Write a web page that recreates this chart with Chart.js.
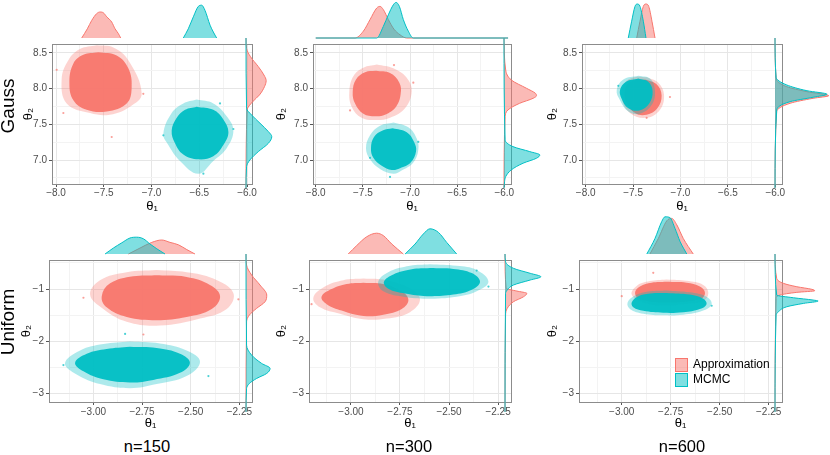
<!DOCTYPE html>
<html>
<head>
<meta charset="utf-8">
<title>Approximation vs MCMC</title>
<script src="https://cdn.jsdelivr.net/npm/chart.js@4.4.1/dist/chart.umd.min.js"></script>
<style>
  html, body { margin: 0; padding: 0; background: #fff; }
  #fig { position: relative; width: 830px; height: 455px; overflow: hidden; font-family: "Liberation Sans", Arial, Helvetica, sans-serif; color: #000; }
  #fig canvas { position: absolute; }
  .rowLabel { position: absolute; font-size: 19px; line-height: 22px; white-space: nowrap; transform: translate(-50%, -50%) rotate(-90deg); }
  .nLabel { position: absolute; font-size: 16.5px; line-height: 20px; white-space: nowrap; transform: translate(-50%, -50%); }
  .legend { position: absolute; left: 675px; top: 357px; font-size: 12px; z-index: 5; }
  .legend div { height: 15px; line-height: 15px; display: flex; align-items: center; white-space: nowrap; }
  .legend .key { width: 11px; height: 12px; border: 1px solid; margin-right: 5px; }
</style>
</head>
<body>
<div id="fig"></div>
<script>
// ---------- values ----------
const rowNames = ['Gauss', 'Uniform'];
const sampleSizes = [150, 300, 600];
const seriesNames = ['Approximation', 'MCMC'];

// axis ticks
const gaussXMajor = [-8, -7.5, -7, -6.5, -6];
const gaussXMinor = [-7.75, -7.25, -6.75, -6.25];
const gaussYMajor = [7, 7.5, 8, 8.5];
const gaussYMinor = [6.75, 7.25, 7.75, 8.25];
const unifXMajor = [-3, -2.75, -2.5, -2.25];
const unifXMinor = [-3.125, -2.875, -2.625, -2.375];
const unifYMajor = [-3, -2, -1];
const unifYMinor = [-2.5, -1.5, -0.5];

// axis limits
const gaussXLimits = [[-8.042, -5.948], [-8.029, -5.929], [-8.039, -5.929]];
const gaussYLimits = [6.665, 8.625];
const unifXLimits = [[-3.228, -2.185], [-3.214, -2.184], [-3.218, -2.182]];
const unifYLimits = [-3.16, -0.444];
const gaussSideLimits = [6.61, 8.625];
const unifSideLimits = [-3.34, -0.444];

// point clouds: outer (sparse) and inner (dense) outlines, [theta1, theta2]
const gauss150ApproxHalo = [[-7.574,8.607],[-7.400,8.576],[-7.243,8.397],[-7.103,7.927],[-7.225,7.748],[-7.435,7.636],[-7.644,7.659],[-7.888,7.793],[-7.941,8.129],[-7.871,8.397],[-7.749,8.554]];
const gauss150ApproxCore = [[-7.557,8.509],[-7.365,8.464],[-7.243,8.285],[-7.208,8.017],[-7.260,7.793],[-7.469,7.681],[-7.679,7.704],[-7.818,7.838],[-7.860,8.084],[-7.818,8.352],[-7.714,8.473]];
const gauss150McmcHalo = [[-6.527,7.847],[-6.353,7.793],[-6.213,7.614],[-6.143,7.413],[-6.213,7.167],[-6.353,6.988],[-6.510,6.809],[-6.702,6.988],[-6.824,7.211],[-6.876,7.368],[-6.789,7.659],[-6.667,7.793]];
const gauss150McmcCore = [[-6.527,7.748],[-6.353,7.704],[-6.248,7.569],[-6.195,7.390],[-6.248,7.211],[-6.353,7.055],[-6.510,7.010],[-6.667,7.077],[-6.754,7.234],[-6.789,7.413],[-6.736,7.592],[-6.649,7.704]];
const gauss150ApproxStray = [[-7.993,8.263],[-7.417,7.323],[-7.923,7.659],[-7.086,7.927]];
const gauss150McmcStray = [[-6.457,6.809],[-6.876,7.346],[-6.143,7.435],[-6.283,7.793]];

const gauss300ApproxHalo = [[-7.353,8.339],[-7.177,8.285],[-7.035,8.151],[-6.982,7.963],[-7.053,7.726],[-7.212,7.592],[-7.353,7.560],[-7.513,7.592],[-7.619,7.748],[-7.643,7.963],[-7.601,8.173],[-7.495,8.294]];
const gauss300ApproxCore = [[-7.361,8.249],[-7.212,8.218],[-7.113,8.084],[-7.099,7.928],[-7.148,7.748],[-7.265,7.636],[-7.371,7.614],[-7.495,7.650],[-7.583,7.793],[-7.608,7.950],[-7.573,8.129],[-7.477,8.231]];
const gauss300McmcHalo = [[-7.177,7.525],[-7.018,7.458],[-6.929,7.301],[-6.912,7.144],[-6.965,6.965],[-7.089,6.853],[-7.177,6.809],[-7.318,6.876],[-7.424,7.010],[-7.467,7.167],[-7.424,7.346],[-7.318,7.480]];
const gauss300McmcCore = [[-7.184,7.444],[-7.035,7.390],[-6.958,7.256],[-6.936,7.122],[-6.993,6.965],[-7.106,6.885],[-7.194,6.862],[-7.300,6.921],[-7.389,7.032],[-7.414,7.167],[-7.382,7.323],[-7.290,7.413]];
const gauss300ApproxStray = [[-6.965,8.084],[-7.170,8.330],[-7.636,7.695]];
const gauss300McmcStray = [[-6.912,7.256],[-7.424,7.032],[-7.212,6.764]];

const gauss600ApproxHalo = [[-7.357,8.160],[-7.234,8.084],[-7.174,7.918],[-7.216,7.704],[-7.357,7.592],[-7.533,7.659],[-7.621,7.883],[-7.586,8.084],[-7.480,8.160]];
const gauss600ApproxCore = [[-7.374,8.129],[-7.252,8.062],[-7.199,7.905],[-7.244,7.726],[-7.357,7.636],[-7.480,7.659],[-7.575,7.815],[-7.586,7.994],[-7.515,8.106]];
const gauss600McmcHalo = [[-7.445,8.182],[-7.322,8.142],[-7.269,7.972],[-7.304,7.771],[-7.427,7.650],[-7.550,7.681],[-7.638,7.838],[-7.673,7.981],[-7.603,8.129]];
const gauss600McmcCore = [[-7.445,8.142],[-7.340,8.097],[-7.294,7.963],[-7.329,7.793],[-7.434,7.695],[-7.550,7.726],[-7.621,7.860],[-7.638,7.981],[-7.575,8.097]];
const gauss600ApproxStray = [[-7.111,7.883],[-7.357,7.592]];
const gauss600McmcStray = [[-7.656,8.039]];

const unif150ApproxHalo = [[-2.675,-0.634],[-2.521,-0.676],[-2.384,-0.799],[-2.281,-1.074],[-2.315,-1.380],[-2.452,-1.563],[-2.658,-1.698],[-2.829,-1.624],[-2.949,-1.380],[-3.017,-1.105],[-2.966,-0.829],[-2.829,-0.676]];
const unif150ApproxCore = [[-2.675,-0.738],[-2.521,-0.768],[-2.401,-0.921],[-2.349,-1.135],[-2.392,-1.380],[-2.521,-1.533],[-2.675,-1.594],[-2.829,-1.533],[-2.932,-1.349],[-2.957,-1.135],[-2.914,-0.891],[-2.795,-0.756]];
const unif150McmcHalo = [[-2.812,-2.003],[-2.658,-2.040],[-2.521,-2.174],[-2.452,-2.388],[-2.521,-2.664],[-2.675,-2.817],[-2.812,-2.896],[-2.966,-2.817],[-3.086,-2.634],[-3.146,-2.420],[-3.068,-2.174],[-2.949,-2.052]];
const unif150McmcCore = [[-2.812,-2.101],[-2.675,-2.125],[-2.555,-2.235],[-2.504,-2.407],[-2.555,-2.602],[-2.692,-2.737],[-2.812,-2.786],[-2.949,-2.725],[-3.051,-2.572],[-3.094,-2.407],[-3.034,-2.235],[-2.932,-2.144]];
const unif150ApproxStray = [[-3.051,-1.166],[-2.255,-1.196],[-2.743,-1.869]];
const unif150McmcStray = [[-2.409,-2.664],[-3.154,-2.454],[-2.837,-1.857]];

const unif300ApproxHalo = [[-2.937,-0.799],[-2.818,-0.829],[-2.699,-0.982],[-2.648,-1.196],[-2.699,-1.441],[-2.818,-1.563],[-2.937,-1.576],[-3.056,-1.472],[-3.158,-1.349],[-3.192,-1.166],[-3.133,-0.952],[-3.039,-0.829]];
const unif300ApproxCore = [[-2.937,-0.878],[-2.835,-0.903],[-2.741,-1.043],[-2.707,-1.209],[-2.741,-1.380],[-2.835,-1.490],[-2.937,-1.514],[-3.048,-1.410],[-3.124,-1.288],[-3.150,-1.147],[-3.099,-1.001],[-3.022,-0.903]];
const unif300McmcHalo = [[-2.597,-0.524],[-2.461,-0.554],[-2.359,-0.634],[-2.299,-0.860],[-2.359,-1.043],[-2.461,-1.147],[-2.614,-1.184],[-2.733,-1.147],[-2.835,-1.043],[-2.861,-0.860],[-2.810,-0.676],[-2.699,-0.554]];
const unif300McmcCore = [[-2.597,-0.597],[-2.478,-0.615],[-2.384,-0.695],[-2.342,-0.860],[-2.384,-1.013],[-2.478,-1.105],[-2.614,-1.135],[-2.724,-1.086],[-2.810,-0.994],[-2.832,-0.860],[-2.784,-0.719],[-2.690,-0.621]];
const unif300ApproxStray = [[-3.201,-1.288]];
const unif300McmcStray = [[-2.299,-0.952],[-2.359,-0.646]];

const unif600ApproxHalo = [[-2.771,-0.817],[-2.669,-0.842],[-2.584,-0.921],[-2.558,-1.074],[-2.584,-1.227],[-2.685,-1.288],[-2.788,-1.319],[-2.890,-1.258],[-2.949,-1.105],[-2.924,-0.939],[-2.856,-0.848]];
const unif600ApproxCore = [[-2.771,-0.860],[-2.669,-0.878],[-2.601,-0.952],[-2.575,-1.074],[-2.601,-1.196],[-2.771,-1.258],[-2.907,-1.196],[-2.932,-1.074],[-2.907,-0.952],[-2.847,-0.878]];
const unif600McmcHalo = [[-2.771,-1.025],[-2.652,-1.062],[-2.567,-1.147],[-2.541,-1.288],[-2.584,-1.410],[-2.685,-1.490],[-2.788,-1.502],[-2.890,-1.472],[-2.958,-1.380],[-2.970,-1.258],[-2.932,-1.123],[-2.856,-1.043]];
const unif600McmcCore = [[-2.771,-1.074],[-2.652,-1.105],[-2.584,-1.184],[-2.567,-1.288],[-2.601,-1.380],[-2.685,-1.441],[-2.788,-1.453],[-2.890,-1.417],[-2.941,-1.349],[-2.949,-1.258],[-2.920,-1.147],[-2.856,-1.086]];
const unif600ApproxStray = [[-3.0,-1.135],[-2.839,-0.689]];
const unif600McmcStray = [[-2.541,-1.319]];

// marginal densities (relative height), top: [theta1, d], side: [theta2, d]
const gauss150ApproxTop = [[-7.731,0],[-7.672,0.23],[-7.626,0.44],[-7.574,0.61],[-7.539,0.65],[-7.504,0.63],[-7.469,0.53],[-7.417,0.40],[-7.382,0.23],[-7.347,0.11],[-7.323,0]];
const gauss150McmcTop = [[-6.667,0],[-6.615,0.23],[-6.562,0.53],[-6.510,0.79],[-6.475,0.82],[-6.440,0.69],[-6.387,0.32],[-6.353,0.15],[-6.318,0]];
const gauss150ApproxSide = [[6.61,0],[7.658,0.02],[7.770,0.12],[7.860,0.24],[7.971,0.33],[8.052,0.36],[8.128,0.32],[8.240,0.22],[8.374,0.08],[8.487,0.01],[8.625,0]];
const gauss150McmcSide = [[6.61,0],[6.897,0.01],[6.987,0.07],[7.099,0.22],[7.211,0.40],[7.300,0.46],[7.367,0.40],[7.480,0.25],[7.591,0.10],[7.681,0.01],[8.625,0]];

const gauss300ApproxTop = [[-8.0,0],[-7.583,0],[-7.495,0.17],[-7.424,0.46],[-7.353,0.75],[-7.318,0.79],[-7.283,0.71],[-7.230,0.46],[-7.170,0.22],[-7.106,0.08],[-7.035,0],[-5.96,0]];
const gauss300McmcTop = [[-8.0,0],[-7.353,0],[-7.283,0.29],[-7.230,0.58],[-7.177,0.83],[-7.148,0.89],[-7.113,0.79],[-7.071,0.46],[-7.018,0.17],[-6.965,0],[-5.96,0]];
const gauss300ApproxSide = [[6.61,0],[7.568,0.02],[7.658,0.07],[7.748,0.28],[7.815,0.52],[7.850,0.58],[7.883,0.56],[7.950,0.40],[8.061,0.13],[8.195,0.03],[8.625,0]];
const gauss300McmcSide = [[6.61,0],[6.696,0.01],[6.763,0.03],[6.853,0.13],[6.943,0.34],[7.010,0.58],[7.054,0.64],[7.099,0.46],[7.166,0.16],[7.256,0.02],[8.625,0]];

const gauss600ApproxTop = [[-7.462,0],[-7.427,0.42],[-7.392,0.79],[-7.364,0.85],[-7.335,0.79],[-7.301,0.42],[-7.269,0]];
const gauss600McmcTop = [[-7.551,0],[-7.515,0.42],[-7.480,0.79],[-7.456,0.85],[-7.427,0.79],[-7.392,0.42],[-7.364,0]];
const gauss600ApproxSide = [[6.61,0],[7.636,0.03],[7.748,0.27],[7.815,0.68],[7.850,0.96],[7.904,0.57],[7.971,0.21],[8.084,0.02],[8.625,0]];
const gauss600McmcSide = [[6.61,0],[7.658,0.03],[7.770,0.27],[7.829,0.68],[7.869,0.93],[7.917,0.57],[7.994,0.21],[8.097,0.02],[8.625,0]];

const unif150ApproxTop = [[-2.820,0],[-2.760,0.15],[-2.700,0.29],[-2.649,0.35],[-2.606,0.29],[-2.563,0.23],[-2.520,0.11],[-2.478,0]];
const unif150McmcTop = [[-2.940,0],[-2.897,0.15],[-2.854,0.28],[-2.812,0.40],[-2.777,0.42],[-2.743,0.38],[-2.709,0.25],[-2.674,0.13],[-2.632,0]];
const unif150ApproxSide = [[-3.34,0],[-1.686,0.01],[-1.563,0.06],[-1.440,0.19],[-1.319,0.34],[-1.196,0.37],[-1.013,0.25],[-0.829,0.10],[-0.646,0.01],[-0.444,0]];
const unif150McmcSide = [[-3.34,0],[-2.908,0.01],[-2.817,0.06],[-2.725,0.19],[-2.633,0.37],[-2.541,0.43],[-2.450,0.28],[-2.297,0.10],[-2.114,0.01],[-0.444,0]];

const unif300ApproxTop = [[-3.014,0],[-2.971,0.21],[-2.920,0.43],[-2.869,0.52],[-2.835,0.46],[-2.792,0.25],[-2.733,0]];
const unif300McmcTop = [[-2.724,0],[-2.673,0.25],[-2.631,0.50],[-2.597,0.63],[-2.554,0.54],[-2.512,0.29],[-2.461,0]];
const unif300ApproxSide = [[-3.34,0],[-1.563,0.01],[-1.440,0.04],[-1.319,0.15],[-1.228,0.33],[-1.165,0.39],[-1.123,0.21],[-1.073,0.02],[-0.444,0]];
const unif300McmcSide = [[-3.34,0],[-1.165,0.01],[-1.105,0.04],[-1.013,0.15],[-0.921,0.45],[-0.861,0.64],[-0.798,0.45],[-0.706,0.15],[-0.585,0.01],[-0.444,0]];

const unif600ApproxTop = [[-2.856,0],[-2.813,0.39],[-2.770,0.83],[-2.745,0.89],[-2.719,0.73],[-2.686,0.39],[-2.635,0]];
const unif600McmcTop = [[-2.872,0],[-2.830,0.39],[-2.796,0.81],[-2.779,0.93],[-2.754,0.91],[-2.728,0.64],[-2.702,0.31],[-2.668,0]];
const unif600ApproxSide = [[-3.34,0],[-1.257,0.02],[-1.196,0.09],[-1.147,0.39],[-1.117,0.71],[-1.092,0.66],[-1.044,0.39],[-0.982,0.15],[-0.890,0.03],[-0.444,0]];
const unif600McmcSide = [[-3.34,0],[-1.563,0.02],[-1.503,0.06],[-1.411,0.21],[-1.349,0.51],[-1.306,0.77],[-1.288,0.68],[-1.246,0.33],[-1.196,0.03],[-0.444,0]];

// ---------- layout (pixels) ----------
const panelBoxes = [
  {l: 52,  t: 38,  w: 200, h: 146, base: 246, sideH: 150, yTitlePad: 9,  xTitlePad: 1.5, xTickPad: 0},
  {l: 313, t: 38,  w: 198, h: 146, base: 504, sideH: 150, yTitlePad: 1,  xTitlePad: 1.5, xTickPad: 0},
  {l: 582, t: 38,  w: 200, h: 146, base: 775, sideH: 150, yTitlePad: 3,  xTitlePad: 1.5, xTickPad: 0},
  {l: 49,  t: 254, w: 203, h: 148, base: 246, sideH: 158, yTitlePad: 10, xTitlePad: 2.5, xTickPad: 1},
  {l: 309, t: 254, w: 202, h: 148, base: 505, sideH: 158, yTitlePad: 5,  xTitlePad: 2.5, xTickPad: 1},
  {l: 579, t: 254, w: 203, h: 148, base: 775, sideH: 158, yTitlePad: 6,  xTitlePad: 2.5, xTickPad: 1}
];
const rowLabelPos = [[7.5, 106], [7.5, 322]];
const nLabelPos = [[147, 446], [409, 446], [682, 446]];

const red = '#F8766D', cyan = '#00BFC4';
const redA = (a) => `rgba(248,118,109,${a})`;
const cyanA = (a) => `rgba(0,191,196,${a})`;

Chart.defaults.font.family = '"Liberation Sans", Arial, Helvetica, sans-serif';
Chart.defaults.animation = false;
Chart.defaults.events = [];
Chart.defaults.plugins.legend.display = false;
Chart.defaults.plugins.tooltip.enabled = false;

const fig = document.getElementById('fig');

const panels = [
  {box: panelBoxes[0], xLim: gaussXLimits[0], yLim: gaussYLimits, sideLim: gaussSideLimits, row: 0,
   aHalo: gauss150ApproxHalo, aCore: gauss150ApproxCore, mHalo: gauss150McmcHalo, mCore: gauss150McmcCore,
   aStray: gauss150ApproxStray, mStray: gauss150McmcStray, aTop: gauss150ApproxTop, mTop: gauss150McmcTop,
   aSide: gauss150ApproxSide, mSide: gauss150McmcSide},
  {box: panelBoxes[1], xLim: gaussXLimits[1], yLim: gaussYLimits, sideLim: gaussSideLimits, row: 0,
   aHalo: gauss300ApproxHalo, aCore: gauss300ApproxCore, mHalo: gauss300McmcHalo, mCore: gauss300McmcCore,
   aStray: gauss300ApproxStray, mStray: gauss300McmcStray, aTop: gauss300ApproxTop, mTop: gauss300McmcTop,
   aSide: gauss300ApproxSide, mSide: gauss300McmcSide},
  {box: panelBoxes[2], xLim: gaussXLimits[2], yLim: gaussYLimits, sideLim: gaussSideLimits, row: 0,
   aHalo: gauss600ApproxHalo, aCore: gauss600ApproxCore, mHalo: gauss600McmcHalo, mCore: gauss600McmcCore,
   aStray: gauss600ApproxStray, mStray: gauss600McmcStray, aTop: gauss600ApproxTop, mTop: gauss600McmcTop,
   aSide: gauss600ApproxSide, mSide: gauss600McmcSide},
  {box: panelBoxes[3], xLim: unifXLimits[0], yLim: unifYLimits, sideLim: unifSideLimits, row: 1,
   aHalo: unif150ApproxHalo, aCore: unif150ApproxCore, mHalo: unif150McmcHalo, mCore: unif150McmcCore,
   aStray: unif150ApproxStray, mStray: unif150McmcStray, aTop: unif150ApproxTop, mTop: unif150McmcTop,
   aSide: unif150ApproxSide, mSide: unif150McmcSide},
  {box: panelBoxes[4], xLim: unifXLimits[1], yLim: unifYLimits, sideLim: unifSideLimits, row: 1,
   aHalo: unif300ApproxHalo, aCore: unif300ApproxCore, mHalo: unif300McmcHalo, mCore: unif300McmcCore,
   aStray: unif300ApproxStray, mStray: unif300McmcStray, aTop: unif300ApproxTop, mTop: unif300McmcTop,
   aSide: unif300ApproxSide, mSide: unif300McmcSide},
  {box: panelBoxes[5], xLim: unifXLimits[2], yLim: unifYLimits, sideLim: unifSideLimits, row: 1,
   aHalo: unif600ApproxHalo, aCore: unif600ApproxCore, mHalo: unif600McmcHalo, mCore: unif600McmcCore,
   aStray: unif600ApproxStray, mStray: unif600McmcStray, aTop: unif600ApproxTop, mTop: unif600McmcTop,
   aSide: unif600ApproxSide, mSide: unif600McmcSide}
];

// ---------- helpers ----------
const pts = (arr) => arr.map(([x, y]) => ({x, y}));
const closed = (arr) => pts(arr.concat([arr[0]]));
const flipped = (arr) => arr.map(([y, x]) => ({x, y}));
const hasVal = (list, v) => list.some(m => Math.abs(m - v) < 1e-6);
const fmt = (v, d) => (v < 0 ? '\u2212' : '') + Math.abs(v).toFixed(d);

const addCanvas = (l, t, w, h) => {
  const c = document.createElement('canvas');
  c.width = w;
  c.height = h;
  c.style.left = l + 'px';
  c.style.top = t + 'px';
  fig.appendChild(c);
  return c;
};

const cloud = (arr, color) => ({
  data: closed(arr), fill: 'shape', backgroundColor: color, borderWidth: 0,
  pointRadius: 0, tension: 0.4, xAxisID: 'x', yAxisID: 'y'
});
const stray = (arr, color) => ({
  data: pts(arr), showLine: false, fill: false, pointRadius: 1.1, pointBorderWidth: 0,
  pointBackgroundColor: color, xAxisID: 'x', yAxisID: 'y'
});
const density = (data, line, area) => ({
  data: data, borderColor: line, backgroundColor: area, borderWidth: 1, pointRadius: 0,
  fill: 'origin', cubicInterpolationMode: 'monotone', clip: false
});

const mainAxis = (pos, lim, major, minor, digits, title, tickPad, titlePad, size) => ({
  type: 'linear', position: pos, min: lim[0], max: lim[1], bounds: 'data',
  afterBuildTicks: s => { s.ticks = major.concat(minor).sort((a, b) => a - b).map(v => ({value: v})); },
  afterFit: s => { if (pos === 'bottom') s.height = size; else s.width = size; },
  ticks: {
    autoSkip: false, maxRotation: 0, minRotation: 0, padding: tickPad, color: '#4D4D4D', font: {size: 10},
    callback: v => hasVal(major, v) ? fmt(v, digits) : ''
  },
  grid: {
    color: c => (c.tick && hasVal(major, c.tick.value)) ? '#E6E6E6' : '#F3F3F3',
    lineWidth: 1, drawTicks: true, tickLength: 3, tickWidth: 1,
    tickColor: c => (c.tick && hasVal(major, c.tick.value)) ? '#555555' : 'rgba(0,0,0,0)'
  },
  border: {display: true, color: '#8C8C8C', width: 1},
  title: {
    display: true, text: title, color: '#000', font: {size: 13},
    padding: pos === 'bottom' ? {top: 0, bottom: titlePad} : {top: titlePad, bottom: 0}
  }
});

const edgeAxis = (pos) => ({
  type: 'linear', position: pos,
  ticks: {display: false}, grid: {display: false, drawTicks: false},
  border: {display: true, color: '#8C8C8C', width: 1},
  afterFit: s => { if (pos === 'top') s.height = 0; else s.width = 0; }
});

// ---------- draw the six panels ----------
panels.forEach((p) => {
  const b = p.box;
  const gauss = p.row === 0;

  // scatter panel
  new Chart(addCanvas(b.l - 40, b.t - 2, b.w + 48, b.h + 34), {
    type: 'line',
    data: {
      datasets: [
        stray(p.mStray, cyanA(0.7)),
        cloud(p.mCore, cyanA(0.95)),
        cloud(p.mHalo, cyanA(0.32)),
        stray(p.aStray, redA(0.7)),
        cloud(p.aCore, redA(0.95)),
        cloud(p.aHalo, redA(0.32))
      ]
    },
    options: {
      responsive: false,
      layout: {padding: {left: 0, top: 2, right: 8, bottom: 0}},
      scales: {
        x: mainAxis('bottom', p.xLim, gauss ? gaussXMajor : unifXMajor, gauss ? gaussXMinor : unifXMinor,
                    gauss ? 1 : 2, '\u03B8\u2081', b.xTickPad, b.xTitlePad, 32),
        y: mainAxis('left', p.yLim, gauss ? gaussYMajor : unifYMajor, gauss ? gaussYMinor : unifYMinor,
                    gauss ? 1 : 0, '\u03B8\u2082', 2, b.yTitlePad, 40),
        xEdge: edgeAxis('top'),
        yEdge: edgeAxis('right')
      }
    }
  });

  // top marginal
  new Chart(addCanvas(b.l, b.t - 40, b.w, 41), {
    type: 'line',
    data: {
      datasets: [
        density(pts(p.mTop), cyan, cyanA(0.5)),
        density(pts(p.aTop), red, redA(0.5))
      ]
    },
    options: {
      responsive: false,
      layout: {padding: 0},
      scales: {
        x: {type: 'linear', display: false, min: p.xLim[0], max: p.xLim[1], bounds: 'data'},
        y: {type: 'linear', display: false, min: -0.025, max: 1, bounds: 'data'}
      }
    }
  });

  // right marginal
  new Chart(addCanvas(b.base - 1, b.t, 57, b.sideH), {
    type: 'line',
    data: {
      datasets: [
        density(flipped(p.mSide), cyan, cyanA(0.5)),
        density(flipped(p.aSide), red, redA(0.5))
      ]
    },
    options: {
      indexAxis: 'y',
      responsive: false,
      layout: {padding: 0},
      scales: {
        x: {type: 'linear', display: false, min: -0.018, max: 1, bounds: 'data'},
        y: {type: 'linear', display: false, min: p.sideLim[0], max: p.sideLim[1], bounds: 'data'}
      }
    }
  });
});

// ---------- text around the panels ----------
rowNames.forEach((name, i) => {
  const d = document.createElement('div');
  d.className = 'rowLabel';
  d.textContent = name;
  d.style.left = rowLabelPos[i][0] + 'px';
  d.style.top = rowLabelPos[i][1] + 'px';
  fig.appendChild(d);
});

sampleSizes.forEach((n, i) => {
  const d = document.createElement('div');
  d.className = 'nLabel';
  d.textContent = 'n=' + n;
  d.style.left = nLabelPos[i][0] + 'px';
  d.style.top = nLabelPos[i][1] + 'px';
  fig.appendChild(d);
});

const legend = document.createElement('div');
legend.className = 'legend';
seriesNames.forEach((name, i) => {
  const row = document.createElement('div');
  const key = document.createElement('span');
  key.className = 'key';
  key.style.background = i === 0 ? redA(0.5) : cyanA(0.5);
  key.style.borderColor = i === 0 ? red : cyan;
  row.appendChild(key);
  row.appendChild(document.createTextNode(name));
  legend.appendChild(row);
});
fig.appendChild(legend);
</script>
</body>
</html>
